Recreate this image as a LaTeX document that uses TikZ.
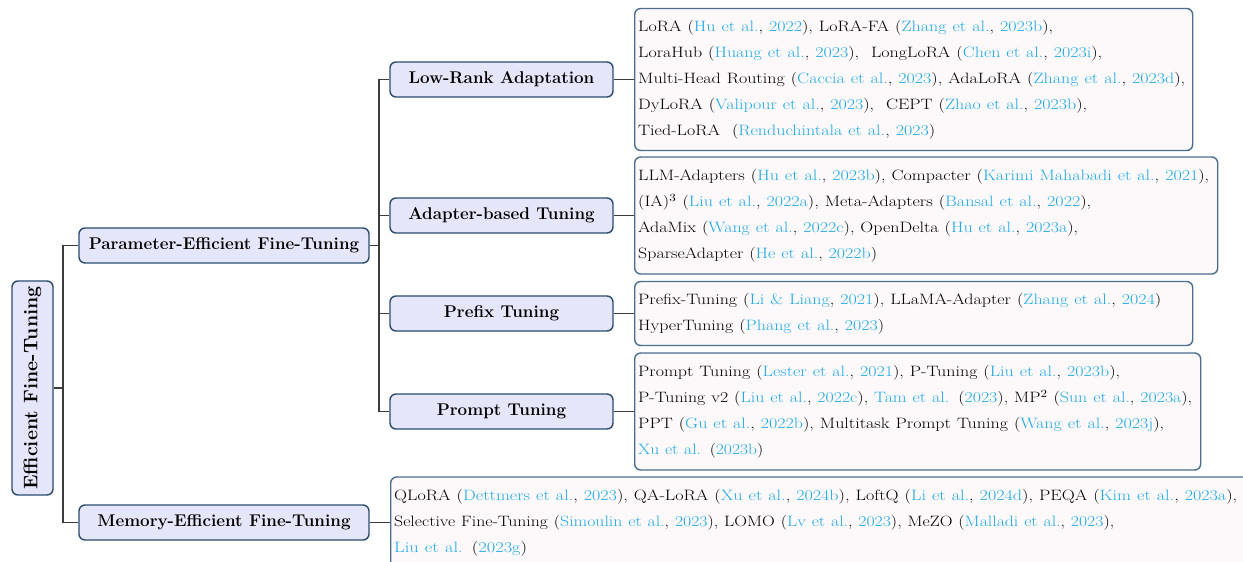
\documentclass[tikz,border=0pt]{standalone}
\usepackage{xcolor}
\usepackage{graphicx}
\definecolor{boxfill}{RGB}{230,230,250}
\definecolor{boxdraw}{RGB}{43,76,111}
\definecolor{leaffill}{RGB}{253,248,249}
\definecolor{leafdraw}{RGB}{74,110,144}
\definecolor{citec}{RGB}{30,170,232}
\definecolor{linkc}{RGB}{60,60,60}
\newcommand{\ct}[1]{\textcolor{citec}{#1}}
\newlength\fitw
\newcommand{\fl}[2]{\settowidth{\fitw}{#2}\pgfmathsetmacro\fitr{#1/\fitw}\scalebox{\fitr}[1]{#2}}
\begin{document}
\begin{tikzpicture}[x=1pt,y=-1pt,
  catbox/.style={draw=boxdraw,fill=boxfill,line width=1.4pt,rounded corners=6pt,
     font=\fontsize{17}{19}\selectfont\bfseries,inner sep=0pt},
  leafbox/.style={draw=leafdraw,fill=leaffill,line width=1.4pt,rounded corners=6pt,
     font=\fontsize{15}{26}\selectfont,align=left,anchor=west,inner xsep=3.5pt,inner ysep=0pt},
  conn/.style={draw=linkc,line width=1.7pt}]
\useasboundingbox (0,0) rectangle (1243,562);
\clip (0,0) rectangle (1243,562);
% root
\node[catbox,rotate=90,minimum width=214pt,minimum height=41pt,font=\fontsize{19.6}{22}\selectfont\bfseries] (root) at (32.5,388) {Efficient Fine-Tuning};
% level 1
\node[catbox,minimum width=290pt,minimum height=35pt] (pe) at (224,245.5) {Parameter-Efficient Fine-Tuning};
\node[catbox,minimum width=290pt,minimum height=35pt] (me) at (224,522.5) {Memory-Efficient Fine-Tuning};
% level 2
\node[catbox,minimum width=223pt,minimum height=35pt] (lora) at (501.5,79.5) {Low-Rank Adaptation};
\node[catbox,minimum width=223pt,minimum height=35pt] (adap) at (501.5,215.5) {Adapter-based Tuning};
\node[catbox,minimum width=223pt,minimum height=35pt] (pref) at (501.5,313.5) {Prefix Tuning};
\node[catbox,minimum width=223pt,minimum height=35pt] (prom) at (501.5,411.5) {Prompt Tuning};
% leaves
\node[leafbox,text width=551pt,minimum height=142pt] (lloRA) at (634,79.5) {%
\fl{415}{LoRA (\ct{Hu et al.}, \ct{2022}), LoRA-FA (\ct{Zhang et al.}, \ct{2023b}),}\\
\fl{464}{LoraHub (\ct{Huang et al.}, \ct{2023}),\ \ LongLoRA (\ct{Chen et al.}, \ct{2023i}),}\\
\fl{547}{Multi-Head Routing (\ct{Caccia et al.}, \ct{2023}), AdaLoRA (\ct{Zhang et al.}, \ct{2023d}),}\\
\fl{449}{DyLoRA (\ct{Valipour et al.}, \ct{2023}),\ \ CEPT (\ct{Zhao et al.}, \ct{2023b}),}\\
\fl{297}{Tied-LoRA\ \ (\ct{Renduchintala et al.}, \ct{2023})}};
\node[leafbox,text width=576pt,minimum height=117pt] (ladap) at (634,215.5) {%
\fl{571}{LLM-Adapters (\ct{Hu et al.}, \ct{2023b}), Compacter (\ct{Karimi Mahabadi et al.}, \ct{2021}),}\\
\fl{453}{(IA)$^3$ (\ct{Liu et al.}, \ct{2022a}), Meta-Adapters (\ct{Bansal et al.}, \ct{2022}),}\\
\fl{440}{AdaMix (\ct{Wang et al.}, \ct{2022c}), OpenDelta (\ct{Hu et al.}, \ct{2023a}),}\\
\fl{239}{SparseAdapter (\ct{He et al.}, \ct{2022b})}};
\node[leafbox,text width=551pt,minimum height=64pt] (lpref) at (634,313.5) {%
\fl{523}{Prefix-Tuning (\ct{Li \& Liang}, \ct{2021}), LLaMA-Adapter (\ct{Zhang et al.}, \ct{2024})}\\
\fl{246}{HyperTuning (\ct{Phang et al.}, \ct{2023})}};
\node[leafbox,text width=559pt,minimum height=117pt] (lprom) at (634,411.5) {%
\fl{482}{Prompt Tuning (\ct{Lester et al.}, \ct{2021}), P-Tuning (\ct{Liu et al.}, \ct{2023b}),}\\
\fl{554}{P-Tuning v2 (\ct{Liu et al.}, \ct{2022c}), \ct{Tam et al.} (\ct{2023}), MP$^2$ (\ct{Sun et al.}, \ct{2023a}),}\\
\fl{526}{PPT (\ct{Gu et al.}, \ct{2022b}), Multitask Prompt Tuning (\ct{Wang et al.}, \ct{2023j}),}\\
\fl{125}{\ct{Xu et al.} (\ct{2023b})}};
\node[leafbox,text width=864pt,minimum height=91pt] (lmem) at (390,522.5) {%
\fl{843}{QLoRA (\ct{Dettmers et al.}, \ct{2023}), QA-LoRA (\ct{Xu et al.}, \ct{2024b}), LoftQ (\ct{Li et al.}, \ct{2024d}), PEQA (\ct{Kim et al.}, \ct{2023a}),}\\
\fl{720}{Selective Fine-Tuning (\ct{Simoulin et al.}, \ct{2023}), LOMO (\ct{Lv et al.}, \ct{2023}), MeZO (\ct{Malladi et al.}, \ct{2023}),}\\
\fl{133}{\ct{Liu et al.} (\ct{2023g})}};
% connectors
\draw[conn] (root.south) -- ++(9,0) |- (pe.west);
\draw[conn] (root.south) -- ++(9,0) |- (me.west);
\draw[conn] (pe.east) -- ++(9,0) |- (lora.west);
\draw[conn] (pe.east) -- ++(9,0) |- (adap.west);
\draw[conn] (pe.east) -- ++(9,0) |- (pref.west);
\draw[conn] (pe.east) -- ++(9,0) |- (prom.west);
\draw[conn] (lora.east) -- (lloRA.west);
\draw[conn] (adap.east) -- (ladap.west);
\draw[conn] (pref.east) -- (lpref.west);
\draw[conn] (prom.east) -- (lprom.west);
\draw[conn] (me.east) -- (lmem.west);
\end{tikzpicture}
\end{document}
